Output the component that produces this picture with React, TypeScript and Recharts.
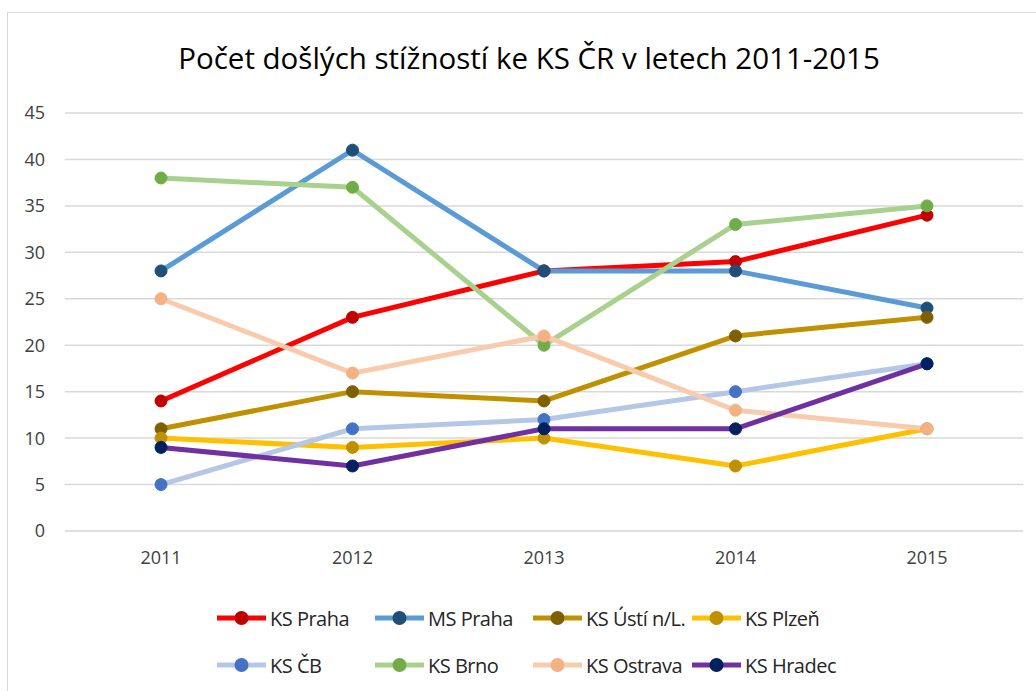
import { LineChart, Line, XAxis, YAxis, CartesianGrid } from "recharts";

const years = ["2011", "2012", "2013", "2014", "2015"];
const ksPraha = [14, 23, 28, 29, 34];
const msPraha = [28, 41, 28, 28, 24];
const ksUsti = [11, 15, 14, 21, 23];
const ksPlzen = [10, 9, 10, 7, 11];
const ksCB = [5, 11, 12, 15, 18];
const ksBrno = [38, 37, 20, 33, 35];
const ksOstrava = [25, 17, 21, 13, 11];
const ksHradec = [9, 7, 11, 11, 18];
const yTicks = [0, 5, 10, 15, 20, 25, 30, 35, 40, 45];

const series = [
  { key: "praha", name: "KS Praha", values: ksPraha, line: "#FF0000", dot: "#C00000" },
  { key: "ms", name: "MS Praha", values: msPraha, line: "#5B9BD5", dot: "#1F4E79" },
  { key: "usti", name: "KS Ústí n/L.", values: ksUsti, line: "#BF9000", dot: "#7F6000" },
  { key: "plzen", name: "KS Plzeň", values: ksPlzen, line: "#FFC000", dot: "#BF9000" },
  { key: "cb", name: "KS ČB", values: ksCB, line: "#B4C7E7", dot: "#4472C4" },
  { key: "brno", name: "KS Brno", values: ksBrno, line: "#A9D18E", dot: "#70AD47" },
  { key: "ostrava", name: "KS Ostrava", values: ksOstrava, line: "#F8CBAD", dot: "#F4B183" },
  { key: "hradec", name: "KS Hradec", values: ksHradec, line: "#7030A0", dot: "#002060" },
];

const data = years.map((year, i) => {
  const row: Record<string, string | number> = { year };
  series.forEach((s) => (row[s.key] = s.values[i]));
  return row;
});

const font = "Open Sans, sans-serif";

export default function App() {
  return (
    <div style={{ position: "absolute", left: 0, top: 0, width: 1036, height: 691, overflow: "hidden", background: "#fff", fontFamily: font }}>
      <div style={{ position: "absolute", left: 7, top: 12, width: 1060, height: 720, border: "1px solid #d9d9d9" }} />
      <div style={{ position: "absolute", left: 0, top: 37, width: 1058, textAlign: "center", fontSize: 29.5, color: "#000" }}>
        Počet došlých stížností ke KS ČR v letech 2011-2015
      </div>
      <div style={{ position: "absolute", left: 0, top: 0 }}>
        <LineChart width={1036} height={691} data={data} margin={{ top: 113, right: 13, bottom: 120, left: 15 }}>
          <CartesianGrid vertical={false} stroke="#d9d9d9" strokeWidth={1.5} />
          <XAxis dataKey="year" axisLine={{ stroke: "#d9d9d9" }} tickLine={false} tickMargin={14} height={40}
            padding={{ left: 96, right: 96 }} tick={{ fontSize: 18, fill: "#404040", fontFamily: font }} />
          <YAxis domain={[0, 45]} ticks={yTicks} width={50} axisLine={false} tickLine={false} tickMargin={14}
            tick={{ fontSize: 18, fill: "#404040", fontFamily: font }} />
          {series.map((s) => (
            <Line key={s.key} dataKey={s.key} name={s.name} type="linear" stroke={s.line} strokeWidth={5}
              dot={{ r: 6, fill: s.dot, stroke: s.dot, strokeWidth: 1 }} isAnimationActive={false} />
          ))}
        </LineChart>
      </div>
      <div style={{ position: "absolute", left: 217, top: 605, display: "grid", gridTemplateColumns: "158px 158px 159px 160px", rowGap: 21 }}>
        {series.map((s) => (
          <div key={s.key} style={{ display: "flex", alignItems: "center", height: 26, fontSize: 20, color: "#262626", whiteSpace: "nowrap", letterSpacing: -0.5 }}>
            <svg width={49} height={16} style={{ marginRight: 4 }}>
              <line x1={0} y1={8} x2={49} y2={8} stroke={s.line} strokeWidth={5} />
              <circle cx={24.5} cy={8} r={7} fill={s.dot} />
            </svg>
            {s.name}
          </div>
        ))}
      </div>
    </div>
  );
}
